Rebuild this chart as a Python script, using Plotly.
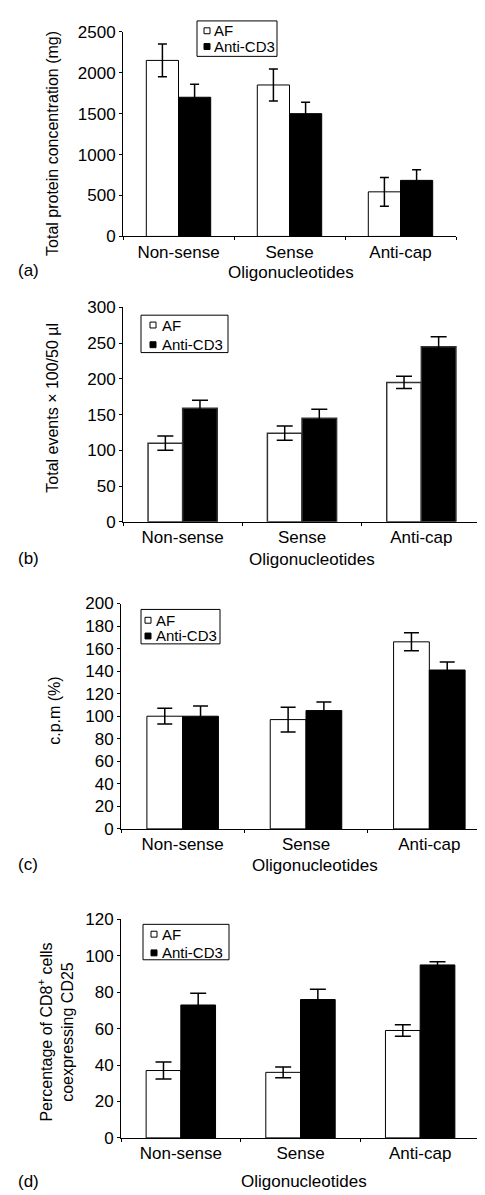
import plotly.graph_objects as go

# ---------------- data ----------------
categories = ["Non-sense", "Sense", "Anti-cap"]
series_names = ["AF", "Anti-CD3"]

a_af = [2150, 1850, 545]
a_af_err = [200, 195, 175]
a_cd3 = [1700, 1500, 685]
a_cd3_err = [160, 140, 130]

b_af = [110, 124, 195]
b_af_err = [10, 10, 8.5]
b_cd3 = [159, 145, 245]
b_cd3_err = [11, 12.5, 14]

c_af = [100, 97, 166]
c_af_err = [7, 11, 8]
c_cd3 = [100, 105, 141]
c_cd3_err = [9, 7.5, 7]

d_af = [37, 36, 59]
d_af_err = [4.7, 3, 3.2]
d_cd3 = [73, 76, 95]
d_cd3_err = [6.5, 5.6, 1.8]

a_ticks = [0, 500, 1000, 1500, 2000, 2500]
b_ticks = [0, 50, 100, 150, 200, 250, 300]
c_ticks = [0, 20, 40, 60, 80, 100, 120, 140, 160, 180, 200]
d_ticks = [0, 20, 40, 60, 80, 100, 120]

y_titles = ["Total protein concentration (mg)",
            "Total events × 100/50 µl",
            "c.p.m (%)",
            "Percentage of CD8<sup>+</sup> cells<br>coexpressing CD25"]
x_title = "Oligonucleotides"
panel_labels = ["(a)", "(b)", "(c)", "(d)"]

# ---------------- layout helpers (pixels) ----------------
W, H = 485, 1195
FONT = "Liberation Sans, Arial, sans-serif"
TICK_SIZE = 17
TITLE_SIZE = 17
YTITLE_SIZE = 16
LEG_SIZE = 15


def fx(p):
    return p / W


def fy(p):
    return 1 - p / H


panels = [
    dict(af=a_af, afe=a_af_err, cd=a_cd3, cde=a_cd3_err, ticks=a_ticks,
         x0=115, x1=448, y0=15, y1=223, cap=4.5, line="black", lw=1,
         ytx=45, yty=129, xtx=283, xty=260, lab_y=258,
         leg=(189, 269, 4, 40), sq_x=(196, 202), rows=(14, 30), txt_x=204),
    dict(af=b_af, afe=b_af_err, cd=b_cd3, cde=b_cd3_err, ticks=b_ticks,
         x0=115, x1=473, y0=295, y1=513, cap=8, line="#333333", lw=1.5,
         ytx=45, yty=397, xtx=304, xty=551, lab_y=550,
         leg=(133, 220, 303, 341), sq_x=(142, 148), rows=(313, 333), txt_x=152),
    dict(af=c_af, afe=c_af_err, cd=c_cd3, cde=c_cd3_err, ticks=c_ticks,
         x0=113, x1=483, y0=596, y1=825, cap=7.5, line="black", lw=1,
         ytx=47, yty=705, xtx=307, xty=862, lab_y=861,
         leg=(133, 212, 602, 637), sq_x=(137, 143), rows=(613, 629), txt_x=146),
    dict(af=d_af, afe=d_af_err, cd=d_cd3, cde=d_cd3_err, ticks=d_ticks,
         x0=113, x1=472, y0=917, y1=1139, cap=8, line="black", lw=1,
         ytx=48, yty=1032, xtx=296, xty=1183, lab_y=1183,
         leg=(135, 221, 922, 958), sq_x=(143, 149), rows=(932, 951), txt_x=152),
]

fig = go.Figure()
annotations = []
shapes = []

for i, p in enumerate(panels):
    k = "" if i == 0 else str(i + 1)
    xref, yref = "x" + k, "y" + k
    for name, vals, errs, fill in [(series_names[0], p["af"], p["afe"], "white"),
                                   (series_names[1], p["cd"], p["cde"], "black")]:
        fig.add_trace(go.Bar(
            x=categories, y=vals, name=name, showlegend=False,
            xaxis=xref, yaxis=yref,
            marker=dict(color=fill, line=dict(color=p["line"], width=p["lw"])),
            error_y=dict(type="data", array=errs, visible=True, color="black",
                         thickness=1.5, width=p["cap"]),
        ))
    fig.layout["xaxis" + k] = dict(
        domain=[fx(p["x0"]), fx(p["x1"])], anchor=yref,
        type="category", range=[-0.5, 2.5],
        showline=True, linecolor="black", linewidth=1,
        ticks="outside", tickson="boundaries", ticklen=3, tickcolor="black",
        showgrid=False, zeroline=False,
        tickfont=dict(family=FONT, size=TICK_SIZE, color="black"),
    )
    fig.layout["yaxis" + k] = dict(
        domain=[fy(p["y1"]), fy(p["y0"])], anchor=xref,
        range=[0, p["ticks"][-1]], tickvals=p["ticks"],
        showline=True, linecolor="black", linewidth=1,
        ticks="outside", ticklen=3, tickcolor="black",
        showgrid=False, zeroline=False,
        tickfont=dict(family=FONT, size=TICK_SIZE, color="black"),
    )
    # axis titles and panel label
    annotations.append(dict(text=y_titles[i], x=fx(p["ytx"]), y=fy(p["yty"]),
                            xref="paper", yref="paper", showarrow=False,
                            textangle=-90, xanchor="center", yanchor="middle",
                            font=dict(family=FONT, size=YTITLE_SIZE, color="black")))
    annotations.append(dict(text=x_title, x=fx(p["xtx"]), y=fy(p["xty"]),
                            xref="paper", yref="paper", showarrow=False,
                            xanchor="center", yanchor="middle",
                            font=dict(family=FONT, size=TITLE_SIZE, color="black")))
    annotations.append(dict(text=panel_labels[i], x=fx(8), y=fy(p["lab_y"]),
                            xref="paper", yref="paper", showarrow=False,
                            xanchor="left", yanchor="middle",
                            font=dict(family=FONT, size=TITLE_SIZE, color="black")))
    # legend box
    lx0, lx1, ly0, ly1 = p["leg"]
    shapes.append(dict(type="rect", xref="paper", yref="paper",
                       x0=fx(lx0), x1=fx(lx1), y0=fy(ly1), y1=fy(ly0),
                       line=dict(color="black", width=1), fillcolor="white"))
    for name, fill, ry in [(series_names[0], "white", p["rows"][0]),
                           (series_names[1], "black", p["rows"][1])]:
        sx0, sx1 = p["sq_x"]
        shapes.append(dict(type="rect", xref="paper", yref="paper",
                           x0=fx(sx0), x1=fx(sx1), y0=fy(ry + 3), y1=fy(ry - 3),
                           line=dict(color="black", width=1), fillcolor=fill))
        annotations.append(dict(text=name, x=fx(p["txt_x"]), y=fy(ry),
                                xref="paper", yref="paper", showarrow=False,
                                xanchor="left", yanchor="middle",
                                font=dict(family=FONT, size=LEG_SIZE, color="black")))

fig.update_layout(
    width=W, height=H, margin=dict(l=0, r=0, t=0, b=0),
    paper_bgcolor="white", plot_bgcolor="white",
    barmode="group", bargap=0.42, bargroupgap=0,
    annotations=annotations, shapes=shapes,
    font=dict(family=FONT, color="black"),
)

fig.write_html("out.html")
